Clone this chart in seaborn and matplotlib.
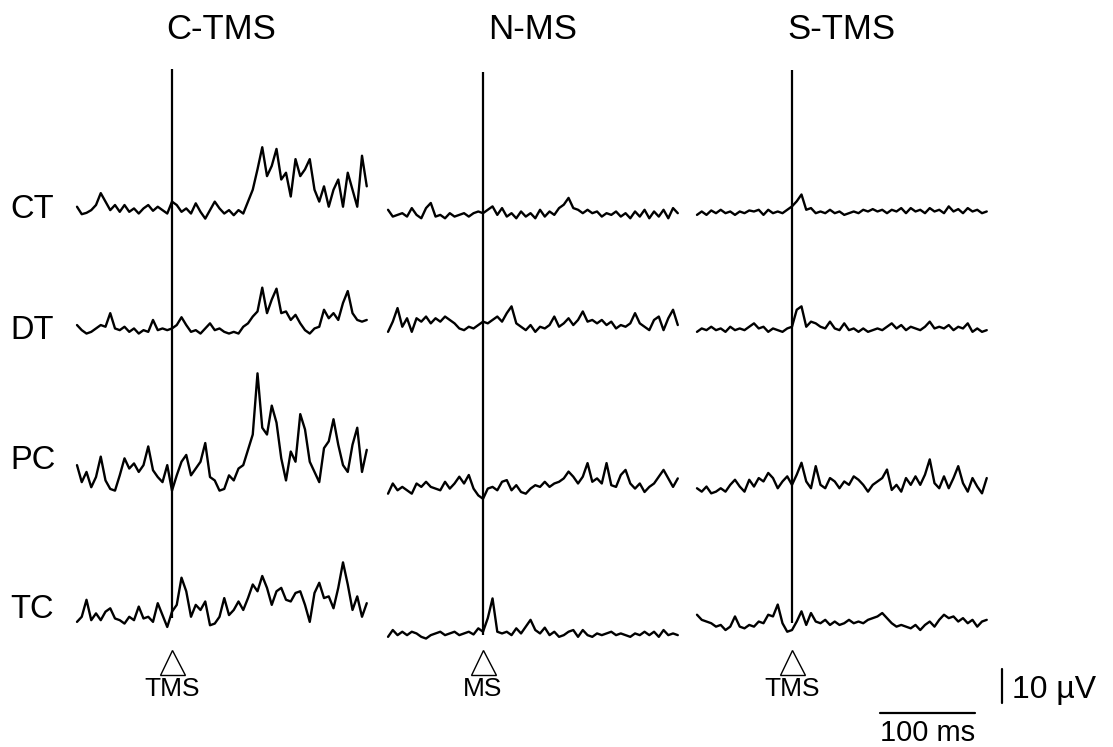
import numpy as np
import pandas as pd
import matplotlib
matplotlib.use("Agg")
import matplotlib.pyplot as plt
import seaborn as sns

# ---------------- data (µV, one sample every 5 ms, -100 .. 205 ms) ----------------
time_ms = list(range(-100, 206, 5))

conditions = ["C-TMS", "N-MS", "S-TMS"]
regions = ["CT", "DT", "PC", "TC"]
stim_labels = ["TMS", "MS", "TMS"]

ct_c = [1.5, -0.7, -0.3, 0.5, 2.0, 5.5, 3.0, 0.5, 2.0, 0, 2.0, 0, 1.0, -0.5, 1.0, 2.0, 0.3, 1.5, 0.5, -0.5,
        3.0, 2.0, 0, 1.0, -0.5, 2.5, 0, -2.0, 0.5, 3.0, 1.0, -0.5, 0.5, -1.0, 0.5, -0.5, 3.0, 6.5, 12.5, 19.0,
        10.5, 13.5, 18.5, 9.5, 11.5, 4.5, 15.5, 10.5, 12.5, 15.5, 6.5, 3.0, 7.5, 1.5, 6.5, 9.5, 1.5, 11.5, 6.5, 1.5,
        16.5, 7.5]
ct_n = [1.5, -0.5, 0, 0.5, -0.5, 2.0, 0, -1.0, 2.0, 3.5, -0.5, 0, -1.0, 0.5, -0.5, 0, 0.5, -0.5, 0.5, 1.0,
        0.5, 1.5, 2.5, 0, 2.0, -0.5, 0.5, -1.0, 1.0, -0.5, 0.5, -1.0, 1.5, -0.5, 1.0, 0, 2.0, 3.0, 5.0, 2.0,
        1.5, 0.5, 1.5, 0.5, 1.0, -0.5, 0.5, 0, 1.0, -0.5, 0.5, -1.0, 1.0, -0.5, 1.5, -1.0, 1.0, -0.5, 1.5, -1.0,
        2.0, 0.5]
ct_s = [-0.5, 0.5, -0.5, 0.8, 0, 1.0, 0, 0.5, -0.5, 0.5, 0, 0.8, 0.5, 1.0, -0.5, 1.0, 0, 0.5, 0, 1.0,
        2.0, 3.5, 5.5, 1.0, 1.5, 0, 0.5, 0, 1.0, 0, 0.5, -0.5, 0, 0.5, 0, 1.0, 0.5, 1.2, 0.5, 1.0,
        0, 1.0, 0.5, 1.5, 0, 1.5, 0.5, 1.0, 0, 1.5, 0.5, 1.0, 0, 2.0, 0.5, 1.2, 0, 1.5, 0.5, 1.0,
        0, 0.5]
dt_c = [1.5, 0, -1.0, -0.5, 0.5, 1.5, 1.0, 5.0, 0.5, 0, 1.0, -0.5, 0.5, -1.0, 0, -0.5, 3.0, 0, 0.5, 0,
        0.5, 1.5, 3.8, 1.5, -0.5, 0, -1.0, 0.5, 2.0, 0, 0.5, -0.5, -1.0, -0.5, -1.0, 1.0, 2.0, 4.0, 5.5, 12.5,
        5.0, 9.0, 12.2, 5.0, 5.5, 3.0, 4.5, 2.0, 0, -1.0, 0.5, 1.0, 6.0, 3.5, 5.0, 3.0, 8.0, 11.5, 5.0, 3.0,
        2.5, 3.0]
dt_n = [-1.5, 1.5, 5.5, 0, 2.5, -1.5, 2.5, 1.5, 3.0, 1.0, 2.5, 1.5, 3.0, 2.0, 1.0, -0.5, -1.0, 0, -0.5, 0.5,
        1.5, 1.0, 2.0, 3.0, 1.5, 4.0, 6.0, 1.0, 0, -1.0, 0.5, -1.5, 0, -0.5, 0.5, 3.0, 0, 1.0, 2.5, 0.5,
        2.0, 4.5, 1.5, 2.0, 1.0, 2.0, 0.5, 1.5, -0.5, 0.5, 0, 1.0, 4.0, 1.0, 0, -1.0, 2.0, 3.0, -1.0, 2.5,
        5.0, 0.5]
dt_s = [-0.5, 0.5, 0, 1.0, 0, 0.5, -0.5, 1.0, 0, 0.5, 0, 1.0, 2.0, 0.5, 1.0, -0.5, 0.5, 0, -0.5, 0.5,
        1.0, 6.0, 7.0, 1.0, 2.5, 2.0, 1.0, 0.5, 2.5, 0.5, 0, 2.0, 0, 0.5, -0.5, 0.5, -0.5, 0, 0.5, 0,
        1.0, 2.0, 0.5, 1.5, 0, 1.0, 0.5, 0, 1.0, 2.5, 0.5, 1.0, 0.5, 1.5, 0, 1.0, 0.5, 2.0, -0.5, 0.5,
        -0.5, 0]
pc_c = [4.0, -1.0, 2.0, -2.5, 0.5, 6.5, -0.5, -3.0, -3.5, 1.0, 6.0, 3.0, 4.5, 2.0, 4.0, 9.5, 2.5, 0.5, -1.0, 4.0,
        -3.5, 1.0, 5.0, 7.0, 1.0, 3.0, 5.0, 10.5, 0.5, -0.5, -3.5, -3.0, 1.0, -0.5, 3.0, 4.0, 8.5, 13.0, 31.0, 15.0,
        13.0, 21.5, 16.5, 6.0, -0.5, 8.0, 5.0, 19.0, 14.5, 5.0, 2.0, -1.0, 9.0, 11.0, 17.5, 10.0, 4.0, 2.0, 10.0, 15.0,
        2.0, 8.5]
pc_n = [-0.5, 2.5, 0.5, 1.5, 0.5, -0.5, 2.5, 1.5, 3.0, 1.5, 1.0, 0.5, 3.0, 1.0, 2.5, 4.5, 2.5, 5.0, 1.0, -1.0,
        -2.0, 1.0, 1.5, 0.5, 3.0, 3.5, 0.5, 2.0, 0, -0.5, 1.0, 2.0, 1.5, 3.0, 1.5, 2.5, 3.0, 4.0, 6.0, 4.5,
        2.5, 4.5, 8.5, 3.0, 4.0, 2.5, 8.5, 2.0, 1.5, 5.0, 6.5, 2.5, 1.0, 2.5, 0, 1.5, 2.5, 4.5, 6.5, 4.0,
        1.5, 4.0]
pc_s = [0.5, -0.5, 1.0, -1.0, -0.5, 0.5, -0.5, 1.5, 3.0, 1.0, -0.5, 3.0, 1.0, 3.5, 2.5, 5.0, 3.5, 0.5, 2.5, 4.0,
        1.5, 4.5, 8.0, 2.5, 0.5, 7.0, 1.5, 0.5, 3.5, 2.5, 0.5, 2.5, 1.5, 4.0, 3.0, 1.5, -0.5, 1.5, 2.5, 3.5,
        6.0, 0, 1.5, -0.5, 3.5, 1.5, 4.0, 1.5, 4.5, 9.0, 2.0, 0.5, 4.0, 0.5, 3.5, 7.0, 2.0, -0.5, 3.5, 1.0,
        -1.0, 3.5]
tc_c = [-1.0, 0.5, 5.5, -0.5, 1.5, -0.5, 2.0, 3.0, 0, -0.5, -1.5, 0.5, -0.5, 3.5, 0, 0.5, -1.0, 4.5, 1.0, -2.5,
        2.0, 4.0, 12.0, 8.0, 0.5, 4.0, 2.5, 5.0, -2.0, -1.5, 0.5, 6.0, 1.0, 2.5, 5.0, 2.5, 6.0, 10.0, 8.0, 12.5,
        9.0, 4.0, 8.0, 9.0, 5.5, 5.0, 7.5, 8.0, 4.0, -1.0, 7.5, 10.5, 6.0, 6.5, 3.0, 9.0, 16.5, 10.0, 2.5, 6.5,
        0.5, 4.5]
tc_n = [-0.5, 1.5, 0, 1.0, 0, 1.0, 0.5, -0.5, -1.0, 0, 0.5, 1.0, 0, 0.5, 1.0, 0, 0.5, 1.0, 0.2, 2.0,
        1.0, 5.0, 10.8, 1.0, 0.5, 1.0, 0, 2.0, 0.5, 2.5, 4.5, 1.5, 0.5, 2.2, 0, 1.0, -0.5, 0, 1.0, 1.5,
        -0.5, 1.5, 0, -0.5, 0.5, 0, 0.5, 1.0, 0, 0.5, 0, -0.5, 0.5, 0, 1.0, 0, 1.0, -0.5, 1.5, 0,
        0.5, 0]
tc_s = [2.5, 1.0, 0.5, 0, -1.0, -0.5, -2.0, -1.0, 2.0, -1.0, -1.5, -0.5, -1.0, 0.5, 0, 2.5, 2.0, 5.5, 0, -2.5,
        -2.0, 0.5, 3.5, -0.5, 3.0, 0.5, 0, 1.0, -0.5, 0.5, -0.5, 0, 1.0, 0, 0.5, 0, 1.0, 1.5, 2.0, 3.0,
        1.5, 0, -1.0, -0.5, -1.0, -1.5, -0.5, -2.0, -0.5, 0.5, -1.0, 1.0, 2.5, 1.5, 2.0, 0.5, 1.5, 0, 1.0, -1.0,
        0.5, 1.0]

traces = {
    ("CT", 0): ct_c, ("CT", 1): ct_n, ("CT", 2): ct_s,
    ("DT", 0): dt_c, ("DT", 1): dt_n, ("DT", 2): dt_s,
    ("PC", 0): pc_c, ("PC", 1): pc_n, ("PC", 2): pc_s,
    ("TC", 0): tc_c, ("TC", 1): tc_n, ("TC", 2): tc_s,
}
for k, v in traces.items():
    assert len(v) == len(time_ms), (k, len(v))

artifact_peak_uv = 42.0   # stimulus artefact amplitude above CT trace
scale_uv = 10
scale_ms = 100

# ---------------- layout (ms / µV in drawing space) ----------------
col_shift = [0.0, 327.4, 652.6]
row_base = {
    "CT": [157.4, 156.5, 157.0],
    "DT": [122.6, 123.6, 122.6],
    "PC": [78.9, 75.0, 75.6],
    "TC": [37.8, 32.9, 36.4],
}
row_label_y = {"CT": 158.0, "DT": 122.6, "PC": 84.4, "TC": 40.3}

rows = []
for (reg, c), vals in traces.items():
    for t, v in zip(time_ms, vals):
        rows.append({"trace": f"{reg}-{c}", "x": t + col_shift[c], "y": v + row_base[reg][c]})
df = pd.DataFrame(rows)

sns.set_style("white")
plt.rcParams["font.family"] = ["Liberation Sans", "DejaVu Sans"]
plt.rcParams["text.color"] = "black"

fig = plt.figure(figsize=(11.13, 7.47), dpi=100)
ax = fig.add_axes([0, 0, 1, 1])
sns.lineplot(data=df, x="x", y="y", units="trace", estimator=None, sort=False,
             color="black", linewidth=1.7, ax=ax, legend=False)

# stimulus artefacts
for c in range(3):
    ax.vlines(col_shift[c], row_base["TC"][c], row_base["CT"][c] + artifact_peak_uv,
              color="black", linewidth=1.6)

# column titles
for c, name in enumerate(conditions):
    ax.text(col_shift[c] + 52, 211.0, name, ha="center", va="center", fontsize=25, color="black")

# row labels
for reg in regions:
    ax.text(-170.5, row_label_y[reg], reg, ha="left", va="center", fontsize=23.5, color="black")

# stimulus markers
for c, lab in enumerate(stim_labels):
    ax.plot([col_shift[c]], [25.0], marker="^", markersize=18, markerfacecolor="white",
            markeredgecolor="black", markeredgewidth=1.0, linestyle="none")
    ax.text(col_shift[c], 17.2, lab, ha="center", va="center", fontsize=19, color="black")

# scale bars
ax.plot([873.7, 873.7], [12.9, 12.9 + scale_uv], color="black", linewidth=1.6)
ax.text(884.0, 16.8, f"{scale_uv} µV", ha="left", va="center", fontsize=23, color="black")
ax.plot([745.3, 745.3 + scale_ms], [10.0, 10.0], color="black", linewidth=1.6)
ax.text(795.3, 4.0, f"{scale_ms} ms", ha="center", va="center", fontsize=21, color="black")

ax.set_xlim(-181.05, 990.5)
ax.set_ylim(0, 219.7)
ax.axis("off")

fig.savefig("out.png", dpi=100, facecolor="white")
